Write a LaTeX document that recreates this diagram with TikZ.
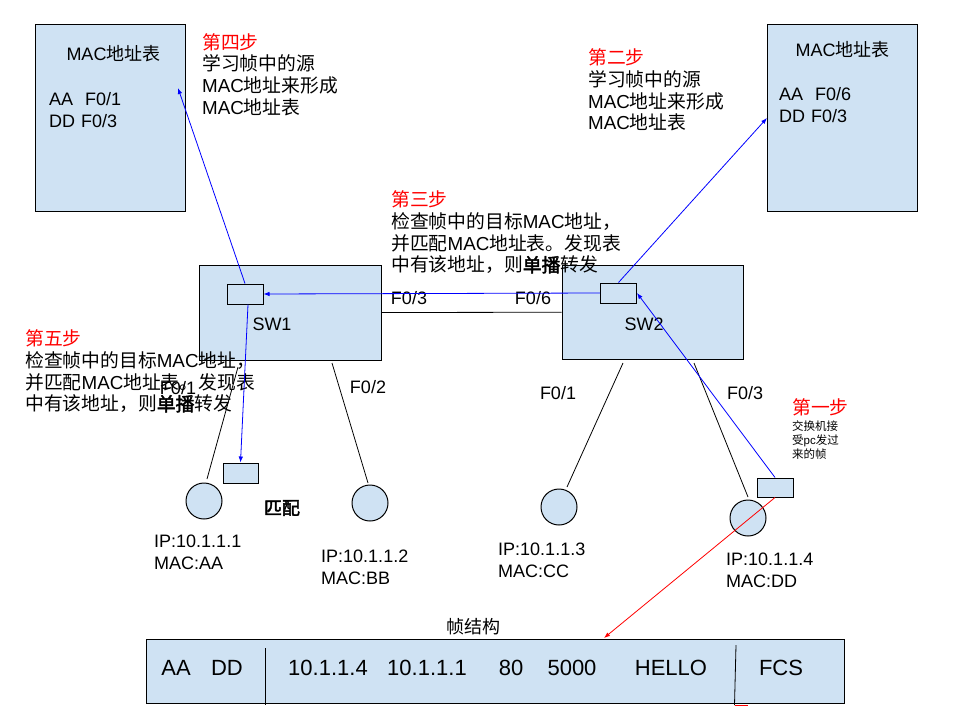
\documentclass[tikz,border=0pt]{standalone}
\usepackage{fontspec}
\setmainfont{Liberation Sans}
\newfontfamily\cjk{Noto Sans CJK SC}[AutoFakeBold=2.5]
\usetikzlibrary{arrows.meta,calc}
\definecolor{lb}{HTML}{CFE2F3}
\begin{document}
\begin{tikzpicture}[x=1pt,y=-1pt,
  box/.style={draw=black,fill=lb,line width=1pt},
  port/.style={box,minimum width=36pt,minimum height=20pt,inner sep=0pt},
  pc/.style={box,circle,minimum size=36pt,inner sep=0pt},
  txt/.style={inner sep=0pt,anchor=base west,align=left,text width=#1,font=\fontsize{18}{22}\selectfont},
  txt/.default=260pt,
  steptxt/.style={txt=260pt,font=\fontsize{18.8}{21.8}\selectfont},
  lbl/.style={inner sep=0pt,anchor=base,font=\fontsize{18}{22}\selectfont},
  flbl/.style={inner sep=0pt,anchor=base,font=\fontsize{22}{26}\selectfont},
  link/.style={draw=black,line width=0.8pt},
  barrow/.style={draw=blue,line width=0.8pt,-{Latex[length=6pt,width=4.5pt]}},
  rarrow/.style={draw=red,line width=0.8pt,-{Latex[length=6pt,width=4.5pt]}},
]
\useasboundingbox (0,0) rectangle (960,720);
\fill[white] (0,0) rectangle (960,720);

% MAC tables
\node[box,minimum width=150pt,minimum height=187pt,inner sep=0pt] (tab1) at (110,117.5) {};
\node[lbl] (tab1t) at (113.5,60.5) {MAC{\cjk 地址表}};
\node[txt=120pt] (tab1e) at (49,105.5) {AA\ \ F0/1\\DD F0/3};

\node[box,minimum width=150pt,minimum height=187pt,inner sep=0pt] (tab2) at (842,117.5) {};
\node[lbl] (tab2t) at (842.5,56.5) {MAC{\cjk 地址表}};
\node[txt=120pt] (tab2e) at (779,100.5) {AA\ \ F0/6\\DD F0/3};

% switches
\node[box,minimum width=182pt,minimum height=95pt,inner sep=0pt] (sw1) at (290,312.5) {};
\node[box,minimum width=181pt,minimum height=94.5pt,inner sep=0pt] (sw2) at (652.5,312.25) {};
\node[lbl] (sw1t) at (272,330.5) {SW1};
\node[lbl] (sw2t) at (644,330.5) {SW2};
\node[port] (sw1port) at (245,294) {};
\node[port] (sw2port) at (618.5,293) {};
\draw[link] (sw1.east) -- (sw2.west);
\node[lbl] (l03) at (409,304.5) {F0/3};
\node[lbl] (l06) at (533,304.5) {F0/6};

% step texts
\node[steptxt] (s4) at (202,49) {\textcolor{red}{\cjk 第四步}\\{\cjk 学习帧中的源}\\MAC{\cjk 地址来形成}\\MAC{\cjk 地址表}};
\node[steptxt] (s2) at (588,64.5) {\textcolor{red}{\cjk 第二步}\\{\cjk 学习帧中的源}\\MAC{\cjk 地址来形成}\\MAC{\cjk 地址表}};
\node[steptxt] (s3) at (391,206.5) {\textcolor{red}{\cjk 第三步}\\{\cjk 检查帧中的目标}MAC{\cjk 地址，}\\{\cjk 并匹配}MAC{\cjk 地址表。发现表}\\{\cjk 中有该地址，则\bfseries 单播\mdseries 转发}};
\node[steptxt] (s5) at (25,345.5) {\textcolor{red}{\cjk 第五步}\\{\cjk 检查帧中的目标}MAC{\cjk 地址，}\\{\cjk 并匹配}MAC{\cjk 地址表。发现表}\\{\cjk 中有该地址，则\bfseries 单播\mdseries 转发}};
\node[txt=80pt,font=\fontsize{18.8}{22}\selectfont] (s1) at (792,414.5) {\textcolor{red}{\cjk 第一步}};
\node[inner sep=0pt,anchor=base west,align=left,text width=70pt,font=\fontsize{11.5}{14}\selectfont] (s1b) at (792,430) {{\cjk 交换机接}\\{\cjk 受}pc{\cjk 发过}\\{\cjk 来的帧}};

% PCs
\node[pc] (pc1) at (204,501) {};
\node[pc] (pc2) at (370,503) {};
\node[pc] (pc3) at (559,507) {};
\node[pc] (pc4) at (748,518) {};
\node[port,minimum width=35pt] (pc1port) at (240.5,473) {};
\node[port,minimum height=19pt] (pc4port) at (775,487.5) {};

\coordinate (a1) at (238,367); \coordinate (b1) at (207,479);
\coordinate (a2) at (332,363); \coordinate (b2) at (368,483);
\coordinate (a3) at (623,363); \coordinate (b3) at (567,487);
\coordinate (a4) at (694,363); \coordinate (b4) at (748,497);
\draw[link] (a1) -- (b1);
\draw[link] (a2) -- (b2);
\draw[link] (a3) -- (b3);
\draw[link] (a4) -- (b4);

\node[lbl] (l01a) at (178,394.5) {F0/1};
\node[lbl] (l02) at (368,393.5) {F0/2};
\node[lbl] (l01b) at (558,399.5) {F0/1};
\node[lbl] (l03b) at (745,399.5) {F0/3};

\node[lbl,font=\fontsize{18}{22}\selectfont\cjk\bfseries] (match) at (282,514.5) {匹配};

\node[txt=120pt] (ip1) at (154,547.5) {IP:10.1.1.1\\MAC:AA};
\node[txt=120pt] (ip2) at (321,562.5) {IP:10.1.1.2\\MAC:BB};
\node[txt=120pt] (ip3) at (498,555.5) {IP:10.1.1.3\\MAC:CC};
\node[txt=120pt] (ip4) at (726,565.5) {IP:10.1.1.4\\MAC:DD};

% frame
\node[box,minimum width=698pt,minimum height=64pt,inner sep=0pt] (frame) at (495,671) {};
\node[lbl] (ftitle) at (473,633.5) {{\cjk 帧结构}};
\coordinate (d1a) at (265.5,648); \coordinate (d1b) at (265.5,705);
\coordinate (d2a) at (736,645); \coordinate (d2b) at (734.5,705);
\coordinate (rt) at (747.5,705);
\draw[link] (d1a) -- (d1b);
\draw[link] (d2a) -- (d2b);
\draw[draw=red,line width=0.8pt] (d2b) -- (rt);
\node[flbl] (f1) at (176,675) {AA};
\node[flbl] (f2) at (227,675) {DD};
\node[flbl] (f3) at (328,675) {10.1.1.4};
\node[flbl] (f4) at (427,675) {10.1.1.1};
\node[flbl] (f5) at (511,675) {80};
\node[flbl] (f6) at (572,675) {5000};
\node[flbl] (f7) at (671,675) {HELLO};
\node[flbl] (f8) at (781,675) {FCS};

% arrows
\coordinate (t4) at (178,88);
\coordinate (t2) at (767,118);
\coordinate (tf) at (604,638);
\draw[barrow] (sw1port.north) -- (t4);
\draw[barrow] (sw2port.north) -- (t2);
\draw[barrow] (sw2port.west) -- (sw1port.east);
\draw[barrow] (pc4port.north) -- (sw2port.east);
\draw[barrow] ($(sw1port.south)+(3,0)$) -- (pc1port.north);
\draw[rarrow] (pc4port.south) -- (tf);
\end{tikzpicture}
\end{document}
